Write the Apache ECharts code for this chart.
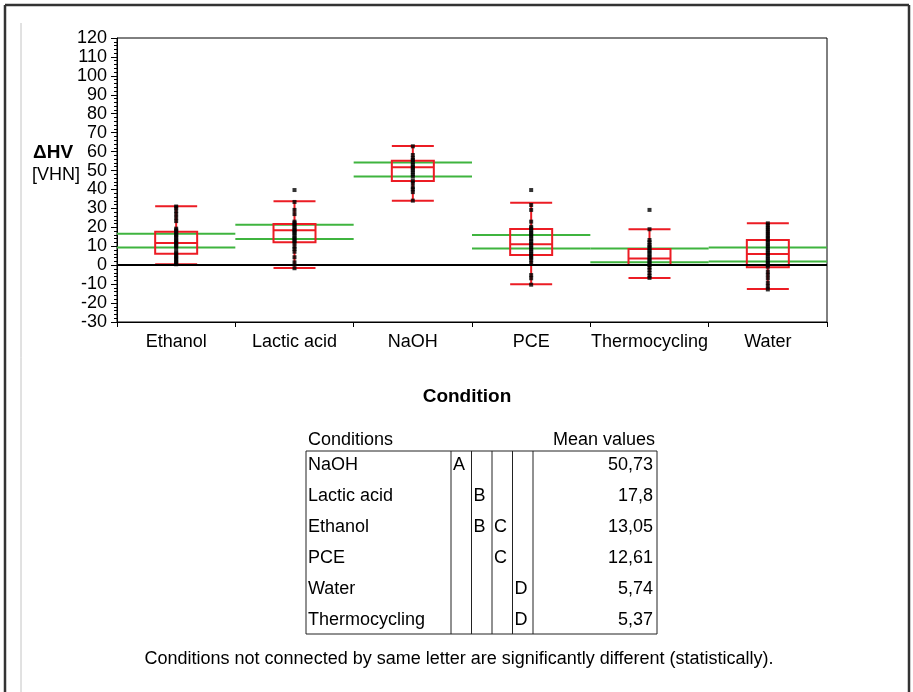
<!DOCTYPE html>
<html>
<head>
<meta charset="utf-8">
<script src="https://cdn.jsdelivr.net/npm/echarts@6/dist/echarts.min.js"></script>
<style>
html,body{margin:0;padding:0;background:#fff;}
#chart{width:913px;height:692px;}
</style>
</head>
<body>
<div id="chart"></div>
<script>
// ---- data ----
var categories = ['Ethanol', 'Lactic acid', 'NaOH', 'PCE', 'Thermocycling', 'Water'];
var whiskerLow  = [0.5, -1.5, 34.1, -10.1, -6.7, -12.6];
var q1          = [6.1, 12.1, 44.5, 5.4, 0.1, -1.1];
var median      = [11.7, 18.4, 51.7, 11.0, 3.6, 5.9];
var q3          = [17.7, 21.8, 55.2, 19.1, 8.6, 13.3];
var whiskerHigh = [31.1, 33.8, 63.0, 33.0, 19.0, 22.1];
var meanCILow   = [9.3, 13.8, 46.9, 8.8, 1.6, 2.0];
var meanCIHigh  = [16.6, 21.4, 54.3, 16.0, 8.8, 9.3];
var pointsEthanol = [31.0, 30.4, 28.6, 26.9, 25.1, 23.3, 19.3, 18.4, 17.7, 16.6, 15.9, 15.0, 14.2, 13.1, 12.5, 11.6, 10.8, 9.9, 8.9, 7.1, 6.3, 5.2, 4.6, 3.5, 2.9, 1.8, 1.2, 0.5];
var pointsLactic  = [39.7, 33.4, 29.2, 27.0, 23.0, 22.2, 21.1, 20.3, 19.0, 18.4, 17.4, 16.7, 15.5, 14.5, 13.6, 12.6, 11.6, 9.8, 8.6, 7.1, 4.2, 1.5, -1.6];
var pointsNaOH    = [62.8, 58.2, 56.5, 55.6, 54.4, 53.2, 52.1, 51.3, 50.2, 49.1, 47.9, 46.8, 44.6, 43.3, 41.2, 40.1, 38.6, 34.1];
var pointsPCE     = [39.7, 31.8, 29.2, 23.0, 20.3, 19.4, 18.1, 17.2, 16.0, 15.1, 13.8, 12.8, 11.5, 10.6, 9.3, 8.4, 7.1, 6.2, 4.9, 4.0, 2.7, 1.0, -5.2, -6.9, -10.3];
var pointsThermo  = [29.2, 19.0, 13.3, 12.1, 10.7, 9.8, 8.8, 7.5, 6.6, 5.3, 4.4, 3.1, 2.2, 1.0, 0.1, -1.2, -2.5, -4.1, -5.6, -6.7];
var pointsWater   = [22.1, 21.1, 19.8, 18.9, 17.6, 16.7, 15.4, 14.5, 13.2, 12.3, 11.0, 10.1, 8.8, 7.9, 6.6, 5.7, 4.4, 3.5, 2.2, 1.3, 0.1, -0.8, -3.4, -5.1, -7.0, -9.4, -11.2, -12.8];
var pointsByCategory = [pointsEthanol, pointsLactic, pointsNaOH, pointsPCE, pointsThermo, pointsWater];
var yTicks = {min: -30, max: 120, interval: 10};
var tableConditions = ['NaOH', 'Lactic acid', 'Ethanol', 'PCE', 'Water', 'Thermocycling'];
var tableLetters = [['A','','',''], ['','B','',''], ['','B','C',''], ['','','C',''], ['','','','D'], ['','','','D']];
var tableMeans = ['50,73', '17,8', '13,05', '12,61', '5,74', '5,37'];

// ---- build ----
var FONT = "'Liberation Sans', Arial, sans-serif";
var RED = '#ec1c24';
var GREEN = '#3fb43f';

var boxData = categories.map(function (c, i) {
  return [whiskerLow[i], q1[i], median[i], q3[i], whiskerHigh[i]];
});
var ciData = categories.map(function (c, i) { return [i, meanCILow[i], meanCIHigh[i]]; });
var pointData = [];
pointsByCategory.forEach(function (arr, i) {
  arr.forEach(function (v) { pointData.push([i, v]); });
});

// table graphics
var tLeft = 306, tRight = 657, tTop = 451, tBottom = 634, rowH = 31;
var colLines = [451, 471.5, 492, 512.5, 533];
var graphic = [];
// outer frame
graphic.push({type: 'line', shape: {x1: 5, y1: 5, x2: 909, y2: 5}, style: {stroke: '#333', lineWidth: 2.5}});
graphic.push({type: 'line', shape: {x1: 5, y1: 5, x2: 5, y2: 692}, style: {stroke: '#333', lineWidth: 2.5}});
graphic.push({type: 'line', shape: {x1: 909, y1: 5, x2: 909, y2: 692}, style: {stroke: '#333', lineWidth: 2.5}});
graphic.push({type: 'line', shape: {x1: 21, y1: 23, x2: 21, y2: 692}, style: {stroke: '#c4c4c4', lineWidth: 1}});
// y axis name
graphic.push({type: 'text', left: 33, top: 143, style: {text: 'ΔHV', font: 'bold 19px ' + FONT, fill: '#000'}});
graphic.push({type: 'text', left: 32, top: 166, style: {text: '[VHN]', font: '18px ' + FONT, fill: '#000'}});
// x axis title
graphic.push({type: 'text', x: 467, y: 397, style: {text: 'Condition', font: 'bold 19px ' + FONT, fill: '#000', textAlign: 'center', textVerticalAlign: 'middle'}});
// table header
graphic.push({type: 'text', x: 308, y: 440, style: {text: 'Conditions', font: '18px ' + FONT, fill: '#000', textVerticalAlign: 'middle'}});
graphic.push({type: 'text', x: 655, y: 440, style: {text: 'Mean values', font: '18px ' + FONT, fill: '#000', textAlign: 'right', textVerticalAlign: 'middle'}});
graphic.push({type: 'rect', shape: {x: tLeft, y: tTop, width: tRight - tLeft, height: tBottom - tTop}, style: {fill: 'none', stroke: '#222', lineWidth: 1}});
colLines.forEach(function (x) {
  graphic.push({type: 'line', shape: {x1: x, y1: tTop, x2: x, y2: tBottom}, style: {stroke: '#222', lineWidth: 1}});
});
tableConditions.forEach(function (c, r) {
  var y = tTop + 14 + r * rowH;
  graphic.push({type: 'text', x: 308, y: y, style: {text: c, font: '18px ' + FONT, fill: '#000', textVerticalAlign: 'middle'}});
  tableLetters[r].forEach(function (L, k) {
    if (!L) return;
    graphic.push({type: 'text', x: colLines[k] + 2, y: y, style: {text: L, font: '18px ' + FONT, fill: '#000', textVerticalAlign: 'middle'}});
  });
  graphic.push({type: 'text', x: 653, y: y, style: {text: tableMeans[r], font: '18px ' + FONT, fill: '#000', textAlign: 'right', textVerticalAlign: 'middle'}});
});
// footnote
graphic.push({type: 'text', x: 459, y: 659, style: {text: 'Conditions not connected by same letter are significantly different (statistically).', font: '18px ' + FONT, fill: '#000', textAlign: 'center', textVerticalAlign: 'middle'}});

var chart = echarts.init(document.getElementById('chart'), null, {renderer: 'canvas'});
chart.setOption({
  animation: false,
  backgroundColor: '#fff',
  textStyle: {fontFamily: FONT},
  grid: {left: 117, top: 38, right: 86, bottom: 370, show: true, borderColor: '#000', borderWidth: 1, backgroundColor: 'transparent'},
  xAxis: {
    type: 'category',
    data: categories,
    boundaryGap: true,
    axisLine: {onZero: false, lineStyle: {color: '#000', width: 1}},
    axisTick: {show: true, length: 5, lineStyle: {color: '#000'}},
    axisLabel: {color: '#000', fontSize: 18, margin: 11, fontFamily: FONT, interval: 0},
    splitLine: {show: false}
  },
  yAxis: {
    type: 'value',
    min: yTicks.min, max: yTicks.max, interval: yTicks.interval,
    axisLine: {show: true, lineStyle: {color: '#000'}},
    axisTick: {show: true, length: 6, lineStyle: {color: '#000'}},
    minorTick: {show: true, splitNumber: 5, length: 3, lineStyle: {color: '#000'}},
    axisLabel: {color: '#000', fontSize: 18, margin: 10, fontFamily: FONT},
    splitLine: {show: false}
  },
  graphic: graphic,
  series: [
    {
      type: 'custom',
      z: 2,
      data: ciData,
      renderItem: function (params, api) {
        var cat = api.value(0);
        var lo = api.coord([cat, api.value(1)]);
        var hi = api.coord([cat, api.value(2)]);
        var half = api.size([1, 0])[0] / 2;
        var st = {stroke: GREEN, lineWidth: 2};
        return {type: 'group', children: [
          {type: 'line', shape: {x1: lo[0] - half, y1: lo[1], x2: lo[0] + half, y2: lo[1]}, style: st},
          {type: 'line', shape: {x1: hi[0] - half, y1: hi[1], x2: hi[0] + half, y2: hi[1]}, style: st}
        ]};
      }
    },
    {
      type: 'boxplot',
      z: 3,
      data: boxData,
      boxWidth: [42, 42],
      itemStyle: {color: 'rgba(255,255,255,0)', borderColor: RED, borderWidth: 2}
    },
    {
      type: 'scatter',
      z: 4,
      data: pointData,
      symbol: 'rect',
      symbolSize: [4, 4],
      itemStyle: {color: '#000'},
      markLine: {
        silent: true,
        symbol: ['none', 'none'],
        label: {show: false},
        lineStyle: {color: '#000', width: 2, type: 'solid'},
        data: [{yAxis: 0}]
      }
    }
  ]
});
</script>
</body>
</html>
